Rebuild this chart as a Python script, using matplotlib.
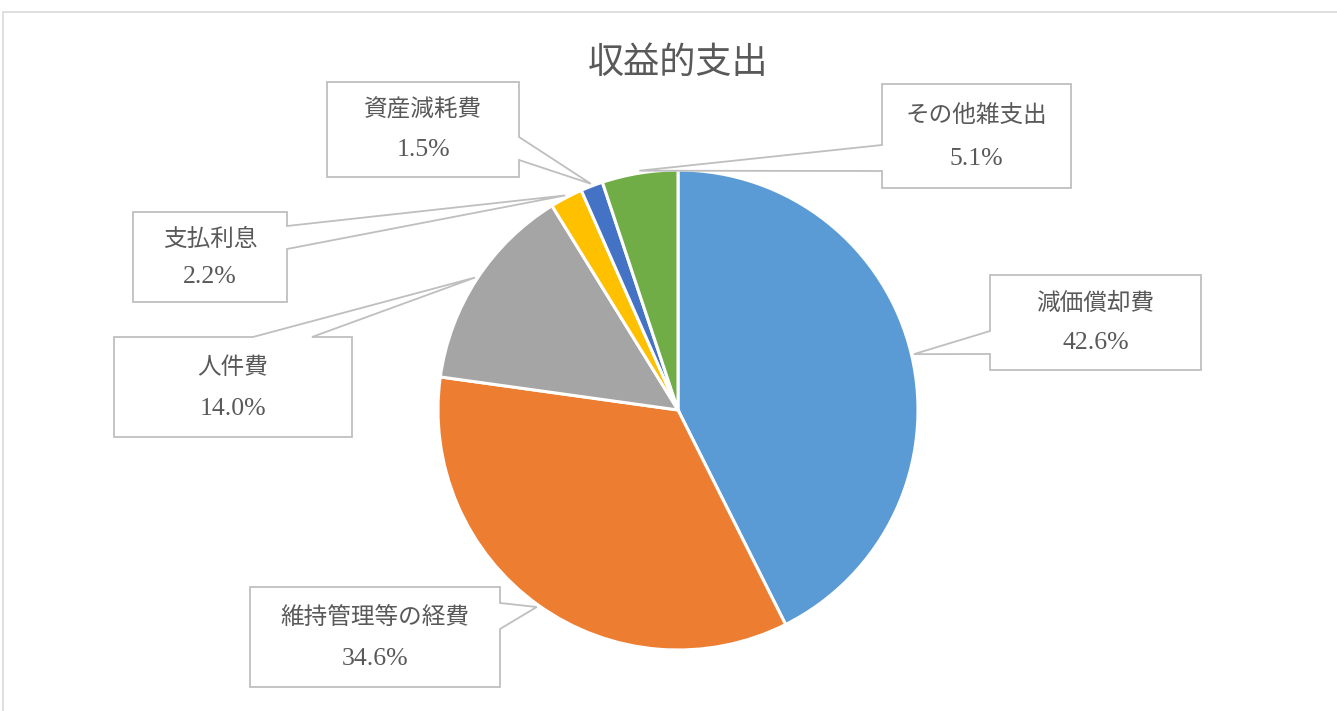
import numpy as np
import matplotlib
matplotlib.use("Agg")
import matplotlib.pyplot as plt
from matplotlib.patches import Polygon, Rectangle

# ---- data ----
title = "収益的支出"
categories = ["減価償却費", "維持管理等の経費", "人件費", "支払利息", "資産減耗費", "その他雑支出"]
values = [42.6, 34.6, 14.0, 2.2, 1.5, 5.1]

# ---- style / layout ----
colors = ["#5B9BD5", "#ED7D31", "#A5A5A5", "#FFC000", "#4472C4", "#70AD47"]
W, H = 1337, 711
cx, cy, R = 678, 410, 240          # pie centre/radius in pixel coords (y down)
# callout boxes: (x0, y0, x1, y1), side of pointer, pointer base range along side
callouts = [
    ((990, 275, 1201, 370), "left", (331, 354)),
    ((250, 587, 500, 687), "right", (603, 629)),
    ((114, 337, 352, 437), "top", (253, 312)),
    ((133, 212, 287, 302), "right", (226, 249)),
    ((327, 82, 519, 177), "right", (137, 160)),
    ((882, 84, 1071, 188), "left", (145, 171)),
]
txt_color = "#595959"
box_edge = "#BFBFBF"
jp_font = ["Noto Sans CJK JP", "DejaVu Sans"]
num_font = ["Liberation Serif", "DejaVu Serif"]

fig = plt.figure(figsize=(W / 100, H / 100), dpi=100)
ax = fig.add_axes([0, 0, 1, 1])


def Y(y):
    return H - y


wedges, _ = ax.pie(values, colors=colors, startangle=90, counterclock=False,
                   center=(cx, Y(cy)), radius=R,
                   wedgeprops=dict(edgecolor="white", linewidth=2.2))
ax.set_aspect("auto")
ax.set_xlim(0, W)
ax.set_ylim(0, H)
ax.axis("off")

# outer chart border
ax.add_patch(Rectangle((3, Y(H + 5)), W + 10, (H + 5) - 12, fill=False,
                       edgecolor="#D9D9D9", linewidth=1.2, zorder=0))

ax.text(678, Y(63), title, fontsize=26, color=txt_color, family=jp_font,
        ha="center", va="center")

total = sum(values)
for w, cat, val, (box, side, (a, b)) in zip(wedges, categories, values, callouts):
    mid = np.deg2rad((w.theta1 + w.theta2) / 2)
    tx = cx + R * 1.01 * np.cos(mid)
    ty = cy - R * 1.01 * np.sin(mid)
    x0, y0, x1, y1 = box
    pts = [(x0, y0)]
    if side == "top":
        pts += [(a, y0), (tx, ty), (b, y0)]
    pts += [(x1, y0)]
    if side == "right":
        pts += [(x1, a), (tx, ty), (x1, b)]
    pts += [(x1, y1), (x0, y1)]
    if side == "left":
        pts += [(x0, b), (tx, ty), (x0, a)]
    poly = Polygon([(px, Y(py)) for px, py in pts], closed=True,
                   facecolor="white", edgecolor=box_edge, linewidth=1.3, zorder=5)
    ax.add_patch(poly)
    xc = (x0 + x1) / 2
    h = y1 - y0
    ax.text(xc, Y(y0 + h * 0.30), cat, fontsize=17, color=txt_color,
            family=jp_font, ha="center", va="center", zorder=6)
    ax.text(xc, Y(y0 + h * 0.72), f"{val / total * 100:.1f}%", fontsize=18.5,
            color=txt_color, family=num_font, ha="center", va="center", zorder=6)

fig.savefig("out.png", dpi=100, facecolor="white")
